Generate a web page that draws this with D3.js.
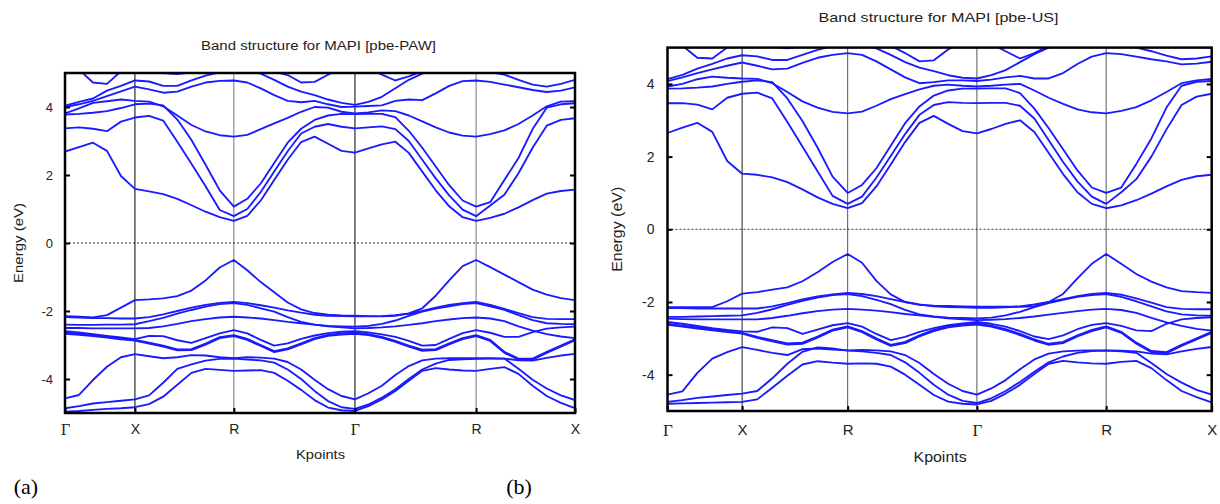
<!DOCTYPE html>
<html lang="en">
<meta charset="UTF-8">
<title>Band structure for MAPI</title>
<script src="https://d3js.org/d3.v7.min.js"></script>
<style>
body { margin: 0; background: #fff; }
svg text { font-family: "Liberation Sans", Arial, sans-serif; fill: #222; }
.band { fill: none; stroke: #1a1aff; stroke-width: 1.85; stroke-linejoin: round; }
.axis path.domain { display: none; }
.axis line { stroke: #000; stroke-width: 2; }
.tag { font-family: "Liberation Serif", "Times New Roman", serif !important; fill: #000 !important; }
</style>
<body>
<script>
// k path (units of 2pi/a) and labels
var kNodes = [0, 0.5, 1.2071, 2.0731, 2.9392, 3.6463]
var kLabels = ["Γ", "X", "R", "Γ", "R", "X"]
var kSteps = [5, 7, 9, 9, 7]
var eTicks = [-4, -2, 0, 2, 4]

// pbe-PAW, conduction bands (eV)
var pawCB1 = [2.69,2.82,2.95,2.71,1.97,1.59, 1.52,1.44,1.30,1.11,0.92,0.76,0.65, 0.80,1.25,1.85,2.45,2.97,3.13,2.92,2.71,2.66, 2.78,2.90,2.98,2.65,2.10,1.55,1.08,0.76,0.65, 0.74,0.86,1.05,1.26,1.45,1.53,1.57]
var pawCB2 = [3.37,3.40,3.36,3.29,3.57,3.69, 3.74,3.60,2.98,2.33,1.67,0.97,0.79, 1.00,1.50,2.10,2.70,3.22,3.42,3.50,3.42,3.37, 3.40,3.43,3.35,3.00,2.45,1.90,1.40,0.98,0.79, 1.10,1.42,2.05,2.80,3.45,3.62,3.67]
var pawCB3 = [3.78,3.80,3.83,3.88,3.97,4.08, 4.10,4.05,3.63,3.03,2.30,1.55,1.07, 1.30,1.75,2.35,2.95,3.36,3.62,3.75,3.80,3.79, 3.80,3.80,3.70,3.30,2.80,2.25,1.70,1.25,1.07, 1.20,1.85,2.50,3.35,3.98,4.08,4.11]
var pawCB4 = [3.81,3.96,4.12,4.17,4.22,4.18, 4.16,4.02,3.75,3.47,3.28,3.17,3.13, 3.18,3.35,3.52,3.68,3.86,4.00,3.98,3.86,3.81, 3.84,3.90,3.88,3.75,3.58,3.40,3.25,3.16,3.13, 3.20,3.31,3.50,3.75,4.02,4.16,4.17]
var pawCB5 = [4.00,4.08,4.18,4.32,4.46,4.60, 4.52,4.42,4.45,4.60,4.72,4.77,4.78, 4.72,4.55,4.35,4.18,4.14,4.18,4.08,4.00,4.01, 4.03,4.05,4.18,4.22,4.20,4.40,4.62,4.76,4.78, 4.74,4.66,4.58,4.50,4.44,4.48,4.58]
var pawCB6 = [4.04,4.15,4.25,4.48,4.62,4.78, 4.75,4.62,4.62,4.78,4.92,5.02,5.08, 5.06,4.98,4.80,4.60,4.45,4.35,4.22,4.12,4.06, 4.15,4.30,4.55,4.80,4.98,5.10,5.15,5.12,5.08, 5.02,4.95,4.80,4.66,4.60,4.68,4.80]
var pawCB7 = [5.40,5.10,4.72,4.68,5.05,5.30, 5.20,5.00,4.97,5.02,5.10,5.15,5.15, 5.12,5.08,5.04,4.94,4.72,4.74,4.95,5.15,5.30, 5.15,4.95,4.78,4.90,5.05,5.15,5.20,5.20,5.15, 5.12,5.10,5.10,5.10,5.05,5.02,5.00]

// pbe-PAW, valence bands (eV)
var pawVB1 = [-2.15,-2.17,-2.19,-2.12,-1.90,-1.68, -1.66,-1.63,-1.56,-1.40,-1.10,-0.72,-0.50, -0.80,-1.15,-1.45,-1.75,-1.95,-2.06,-2.11,-2.13,-2.14, -2.15,-2.16,-2.14,-2.07,-1.92,-1.55,-1.10,-0.68,-0.50, -0.71,-0.93,-1.15,-1.37,-1.52,-1.62,-1.68]
var pawVB2 = [-2.18,-2.19,-2.21,-2.21,-2.22,-2.22, -2.18,-2.10,-2.00,-1.90,-1.82,-1.76,-1.73, -1.77,-1.83,-1.90,-1.98,-2.05,-2.11,-2.14,-2.15,-2.16, -2.16,-2.15,-2.12,-2.08,-2.00,-1.90,-1.82,-1.77,-1.73, -1.82,-1.94,-2.06,-2.18,-2.23,-2.24,-2.24]
var pawVB3 = [-2.40,-2.41,-2.41,-2.40,-2.40,-2.39, -2.30,-2.20,-2.08,-1.97,-1.87,-1.80,-1.77, -1.82,-1.92,-2.02,-2.18,-2.32,-2.40,-2.44,-2.45,-2.46, -2.44,-2.38,-2.28,-2.14,-2.02,-1.93,-1.86,-1.80,-1.77, -1.86,-1.97,-2.12,-2.27,-2.36,-2.38,-2.39]
var pawVB4 = [-2.50,-2.50,-2.51,-2.51,-2.51,-2.51, -2.50,-2.45,-2.38,-2.30,-2.24,-2.19,-2.17, -2.19,-2.22,-2.27,-2.32,-2.36,-2.40,-2.45,-2.48,-2.51, -2.50,-2.48,-2.45,-2.41,-2.36,-2.30,-2.25,-2.21,-2.19, -2.22,-2.30,-2.45,-2.58,-2.68,-2.75,-2.80]
var pawVB5 = [-2.59,-2.63,-2.68,-2.73,-2.78,-2.83, -2.73,-2.74,-2.86,-2.94,-2.80,-2.66,-2.56, -2.66,-2.85,-3.02,-2.95,-2.82,-2.72,-2.65,-2.61,-2.59, -2.63,-2.69,-2.76,-2.88,-3.02,-3.00,-2.82,-2.65,-2.56, -2.64,-2.76,-2.76,-2.62,-2.52,-2.48,-2.46]
var pawVB6 = [-2.63,-2.67,-2.71,-2.76,-2.80,-2.85, -2.93,-3.02,-3.13,-3.12,-2.96,-2.77,-2.71, -2.82,-3.00,-3.18,-3.10,-2.95,-2.80,-2.70,-2.66,-2.63, -2.68,-2.76,-2.88,-3.02,-3.14,-3.12,-2.95,-2.80,-2.71, -2.85,-3.20,-3.40,-3.40,-3.20,-3.02,-2.83]
var pawVB7 = [-2.67,-2.70,-2.74,-2.78,-2.83,-2.87, -2.96,-3.05,-3.16,-3.15,-2.99,-2.80,-2.74, -2.85,-3.03,-3.21,-3.13,-2.98,-2.83,-2.73,-2.69,-2.67, -2.71,-2.79,-2.91,-3.05,-3.17,-3.15,-2.98,-2.83,-2.74, -2.88,-3.23,-3.43,-3.43,-3.23,-3.05,-2.86]
var pawVB8 = [-4.57,-4.47,-4.03,-3.64,-3.36,-3.27, -3.33,-3.39,-3.36,-3.30,-3.31,-3.36,-3.39, -3.36,-3.37,-3.40,-3.50,-3.72,-4.02,-4.30,-4.50,-4.60, -4.42,-4.20,-3.88,-3.62,-3.45,-3.40,-3.39,-3.39,-3.39, -3.39,-3.40,-3.45,-3.46,-3.38,-3.31,-3.26]
var pawVB9 = [-4.86,-4.80,-4.72,-4.68,-4.64,-4.60, -4.48,-4.11,-3.70,-3.57,-3.46,-3.41,-3.40, -3.43,-3.45,-3.52,-3.72,-4.00,-4.35,-4.65,-4.83,-4.88, -4.75,-4.55,-4.30,-4.00,-3.72,-3.55,-3.44,-3.42,-3.41, -3.40,-3.40,-3.70,-4.02,-4.28,-4.48,-4.62]
var pawVB10 = [-4.96,-4.94,-4.91,-4.88,-4.86,-4.83, -4.74,-4.52,-4.17,-3.82,-3.70,-3.73,-3.76, -3.75,-3.74,-3.82,-4.05,-4.32,-4.62,-4.84,-4.92,-4.94, -4.80,-4.60,-4.35,-4.05,-3.76,-3.68,-3.72,-3.75,-3.76, -3.70,-3.65,-3.85,-4.20,-4.50,-4.70,-4.86]

// pbe-US, conduction bands (eV)
var usCB1 = [2.65,2.80,2.93,2.68,1.88,1.53, 1.50,1.43,1.30,1.10,0.88,0.70,0.58, 0.72,1.18,1.78,2.40,2.93,3.12,2.90,2.70,2.64, 2.76,2.90,3.00,2.68,2.10,1.52,1.02,0.70,0.58, 0.66,0.80,0.98,1.18,1.36,1.46,1.50]
var usCB2 = [3.47,3.47,3.43,3.30,3.62,3.73, 3.76,3.60,2.95,2.28,1.60,0.92,0.70, 0.90,1.42,2.02,2.62,3.15,3.42,3.50,3.48,3.47, 3.48,3.48,3.40,3.05,2.45,1.85,1.32,0.90,0.70, 1.02,1.38,2.00,2.75,3.42,3.65,3.73]
var usCB3 = [3.87,3.88,3.90,3.93,4.00,4.06, 4.10,4.05,3.60,2.98,2.25,1.45,1.00, 1.22,1.68,2.30,2.92,3.38,3.68,3.82,3.87,3.87, 3.88,3.88,3.75,3.32,2.78,2.20,1.62,1.15,1.00, 1.15,1.80,2.50,3.35,3.95,4.06,4.08]
var usCB4 = [3.93,4.00,4.13,4.20,4.17,4.15, 4.14,4.02,3.78,3.52,3.35,3.23,3.19, 3.24,3.40,3.58,3.72,3.85,3.95,3.98,3.95,3.93, 3.95,3.98,4.00,3.82,3.62,3.45,3.30,3.22,3.19, 3.26,3.36,3.55,3.78,4.02,4.10,4.14]
var usCB5 = [4.08,4.18,4.30,4.40,4.50,4.59, 4.50,4.40,4.42,4.58,4.72,4.80,4.85, 4.80,4.62,4.40,4.18,4.02,4.05,4.10,4.10,4.08, 4.12,4.18,4.22,4.15,4.15,4.30,4.55,4.75,4.85, 4.82,4.75,4.68,4.62,4.54,4.56,4.61]
var usCB6 = [4.13,4.25,4.42,4.55,4.70,4.79, 4.76,4.66,4.66,4.80,4.94,5.04,5.10, 5.08,4.98,4.80,4.60,4.45,4.35,4.24,4.17,4.15, 4.24,4.38,4.60,4.82,5.00,5.10,5.15,5.12,5.10, 5.06,5.00,4.90,4.78,4.68,4.70,4.76]
var usCB7 = [5.40,5.05,4.72,4.70,5.00,5.25, 5.20,5.02,4.98,5.03,5.10,5.15,5.15, 5.12,5.08,5.05,4.85,4.62,4.65,4.95,5.15,5.30, 5.10,4.90,4.70,4.85,5.05,5.15,5.20,5.20,5.15, 5.12,5.10,5.10,5.10,5.05,5.02,5.00]

// pbe-US, valence bands (eV)
var usVB1 = [-2.14,-2.14,-2.14,-2.14,-1.98,-1.77, -1.73,-1.66,-1.60,-1.43,-1.18,-0.90,-0.68, -0.92,-1.42,-1.79,-2.00,-2.08,-2.10,-2.11,-2.12,-2.13, -2.13,-2.13,-2.13,-2.12,-2.00,-1.78,-1.35,-0.95,-0.68, -0.95,-1.23,-1.44,-1.60,-1.70,-1.73,-1.75]
var usVB2 = [-2.17,-2.17,-2.18,-2.18,-2.18,-2.18, -2.18,-2.12,-2.03,-1.93,-1.85,-1.79,-1.75, -1.78,-1.84,-1.92,-2.00,-2.07,-2.12,-2.14,-2.15,-2.16, -2.16,-2.15,-2.12,-2.07,-2.00,-1.92,-1.84,-1.78,-1.75, -1.80,-1.90,-2.02,-2.14,-2.19,-2.20,-2.20]
var usVB3 = [-2.41,-2.41,-2.40,-2.39,-2.38,-2.37, -2.30,-2.20,-2.08,-1.97,-1.88,-1.81,-1.78, -1.84,-1.94,-2.06,-2.22,-2.34,-2.40,-2.43,-2.44,-2.45, -2.43,-2.37,-2.27,-2.14,-2.03,-1.94,-1.86,-1.81,-1.78, -1.86,-1.98,-2.12,-2.26,-2.34,-2.37,-2.38]
var usVB4 = [-2.46,-2.47,-2.48,-2.48,-2.48,-2.48, -2.48,-2.44,-2.38,-2.31,-2.25,-2.21,-2.19, -2.21,-2.24,-2.28,-2.33,-2.37,-2.41,-2.45,-2.48,-2.50, -2.49,-2.47,-2.44,-2.40,-2.35,-2.30,-2.25,-2.21,-2.19, -2.22,-2.30,-2.44,-2.56,-2.66,-2.74,-2.79]
var usVB5 = [-2.55,-2.60,-2.66,-2.72,-2.77,-2.81, -2.82,-2.70,-2.72,-2.88,-2.76,-2.64,-2.58, -2.68,-2.88,-3.05,-2.96,-2.82,-2.72,-2.64,-2.59,-2.55, -2.60,-2.68,-2.80,-2.95,-3.02,-2.92,-2.75,-2.63,-2.58, -2.66,-2.78,-2.80,-2.60,-2.48,-2.44,-2.42]
var usVB6 = [-2.60,-2.65,-2.70,-2.75,-2.80,-2.85, -2.96,-3.05,-3.14,-3.12,-2.95,-2.76,-2.67, -2.80,-3.00,-3.18,-3.10,-2.92,-2.77,-2.67,-2.62,-2.59, -2.65,-2.75,-2.88,-3.03,-3.15,-3.10,-2.92,-2.77,-2.67, -2.82,-3.12,-3.35,-3.38,-3.18,-3.00,-2.82]
var usVB7 = [-2.63,-2.68,-2.73,-2.78,-2.83,-2.87, -2.99,-3.08,-3.17,-3.15,-2.98,-2.79,-2.70, -2.83,-3.03,-3.21,-3.13,-2.95,-2.80,-2.70,-2.65,-2.62, -2.68,-2.78,-2.91,-3.06,-3.18,-3.13,-2.95,-2.80,-2.70, -2.85,-3.15,-3.38,-3.41,-3.21,-3.03,-2.85]
var usVB8 = [-4.55,-4.46,-3.95,-3.56,-3.38,-3.24, -3.32,-3.40,-3.46,-3.30,-3.28,-3.31,-3.33, -3.32,-3.33,-3.36,-3.46,-3.68,-3.98,-4.25,-4.45,-4.55, -4.38,-4.15,-3.85,-3.58,-3.42,-3.36,-3.34,-3.33,-3.33, -3.34,-3.36,-3.42,-3.44,-3.36,-3.29,-3.24]
var usVB9 = [-4.75,-4.70,-4.64,-4.60,-4.56,-4.52, -4.45,-4.10,-3.70,-3.37,-3.25,-3.28,-3.34, -3.36,-3.40,-3.46,-3.66,-3.95,-4.28,-4.55,-4.72,-4.78, -4.65,-4.45,-4.20,-3.92,-3.66,-3.50,-3.40,-3.35,-3.34, -3.36,-3.40,-3.68,-3.98,-4.22,-4.42,-4.55]
var usVB10 = [-4.80,-4.79,-4.78,-4.77,-4.76,-4.75, -4.68,-4.36,-4.03,-3.72,-3.63,-3.67,-3.70, -3.69,-3.70,-3.78,-4.00,-4.28,-4.56,-4.74,-4.80,-4.82, -4.72,-4.52,-4.28,-3.98,-3.70,-3.62,-3.66,-3.69,-3.70, -3.65,-3.62,-3.82,-4.15,-4.45,-4.62,-4.76]

// k grid shared by every band
var kGrid = []
kSteps.forEach(function(n, s) {
  for (var j = 0; j < n; j++) kGrid.push(kNodes[s] + j * (kNodes[s + 1] - kNodes[s]) / n)
})
kGrid.push(kNodes[kNodes.length - 1])

var panels = [
  { id: "paw", title: "Band structure for MAPI [pbe-PAW]",
    bands: [pawCB1, pawCB2, pawCB3, pawCB4, pawCB5, pawCB6, pawCB7,
            pawVB1, pawVB2, pawVB3, pawVB4, pawVB5, pawVB6, pawVB7, pawVB8, pawVB9, pawVB10],
    left: 65, right: 575, top: 73, bottom: 413, fs: 13,
    titleX: 318.5, titleY: 50, titleW: 235, kptY: 459, kptW: 49, eX: 23, eW: 80,
    tickPadY: 12, tickPadX: 11, kColors: ["#000", "#777", "#000", "#777"],
    tag: "(a)", tagX: 26 },
  { id: "us", title: "Band structure for MAPI [pbe-US]",
    bands: [usCB1, usCB2, usCB3, usCB4, usCB5, usCB6, usCB7,
            usVB1, usVB2, usVB3, usVB4, usVB5, usVB6, usVB7, usVB8, usVB9, usVB10],
    left: 667.5, right: 1211.7, top: 47.6, bottom: 411, fs: 14,
    titleX: 938.5, titleY: 22, titleW: 240, kptY: 462, kptW: 53, eX: 622, eW: 85,
    tickPadY: 13, tickPadX: 13, kColors: ["#222", "#555", "#555", "#555"],
    tag: "(b)", tagX: 519 }
]

var svg = d3.select("body").append("svg")
  .attr("width", 1220)
  .attr("height", 504)

svg.append("rect").attr("width", 1220).attr("height", 504).attr("fill", "#fff")

panels.forEach(drawPanel)

function drawPanel(p) {
  var x = d3.scaleLinear().domain([kNodes[0], kNodes[5]]).range([p.left, p.right])
  var y = d3.scaleLinear().domain([-5, 5]).range([p.bottom, p.top])
  var g = svg.append("g")

  g.append("clipPath").attr("id", "clip-" + p.id)
    .append("rect")
    .attr("x", p.left).attr("y", p.top)
    .attr("width", p.right - p.left).attr("height", p.bottom - p.top)

  // high symmetry lines
  g.selectAll(".kline")
    .data(kNodes.slice(1, 5))
    .enter().append("line")
    .attr("x1", function(d) { return x(d) })
    .attr("x2", function(d) { return x(d) })
    .attr("y1", p.top).attr("y2", p.bottom)
    .attr("stroke", function(d, i) { return p.kColors[i] })
    .attr("stroke-width", 1)

  // Fermi level
  g.append("line")
    .attr("x1", p.left).attr("x2", p.right)
    .attr("y1", y(0)).attr("y2", y(0))
    .attr("stroke", "#333").attr("stroke-width", 1)
    .attr("stroke-dasharray", "2,2")

  var line = d3.line()
    .x(function(d, i) { return x(kGrid[i]) })
    .y(function(d) { return y(d) })

  g.append("g")
    .attr("clip-path", "url(#clip-" + p.id + ")")
    .selectAll("path")
    .data(p.bands)
    .enter().append("path")
    .attr("class", "band")
    .attr("d", line)

  // axes
  var yAxis = d3.axisLeft(y).tickValues(eTicks).tickSizeInner(-5).tickSizeOuter(0)
    .tickPadding(p.tickPadY).tickFormat(function(d) { return String(d) })
  g.append("g").attr("class", "axis")
    .attr("transform", "translate(" + p.left + ",0)")
    .call(yAxis)
    .selectAll("text").style("font-size", p.fs + "px")

  g.append("g").attr("class", "axis")
    .attr("transform", "translate(" + p.right + ",0)")
    .call(d3.axisRight(y).tickValues(eTicks).tickSizeInner(-5).tickSizeOuter(0).tickFormat(""))

  var xAxis = d3.axisBottom(x).tickValues(kNodes).tickSizeInner(-5).tickSizeOuter(0)
    .tickPadding(p.tickPadX).tickFormat(function(d, i) { return kLabels[i] })
  g.append("g").attr("class", "axis")
    .attr("transform", "translate(0," + p.bottom + ")")
    .call(xAxis)
    .selectAll("text")
    .style("font-size", function(d, i) { return kLabels[i] == "Γ" ? (p.fs + 3) + "px" : (p.fs + 1) + "px" })
    .style("font-family", function(d, i) { return kLabels[i] == "Γ" ? "'Liberation Serif', serif" : null })

  // frame
  g.append("rect")
    .attr("x", p.left).attr("y", p.top)
    .attr("width", p.right - p.left).attr("height", p.bottom - p.top)
    .attr("fill", "none").attr("stroke", "#000").attr("stroke-width", 2.5)

  // titles and labels
  g.append("text")
    .attr("x", p.titleX).attr("y", p.titleY)
    .attr("text-anchor", "middle")
    .attr("textLength", p.titleW).attr("lengthAdjust", "spacingAndGlyphs")
    .style("font-size", (p.fs - 0.5) + "px")
    .text(p.title)

  g.append("text")
    .attr("x", (p.left + p.right) / 2 + 0.5).attr("y", p.kptY)
    .attr("text-anchor", "middle")
    .attr("textLength", p.kptW).attr("lengthAdjust", "spacingAndGlyphs")
    .style("font-size", p.fs + "px")
    .text("Kpoints")

  g.append("text")
    .attr("transform", "translate(" + p.eX + "," + y(0) + ") rotate(-90)")
    .attr("text-anchor", "middle")
    .attr("textLength", p.eW).attr("lengthAdjust", "spacingAndGlyphs")
    .style("font-size", p.fs + "px")
    .text("Energy (eV)")

  g.append("text")
    .attr("class", "tag")
    .attr("x", p.tagX).attr("y", 494)
    .attr("text-anchor", "middle")
    .style("font-size", "22px")
    .text(p.tag)
}
</script>
</body>
</html>
